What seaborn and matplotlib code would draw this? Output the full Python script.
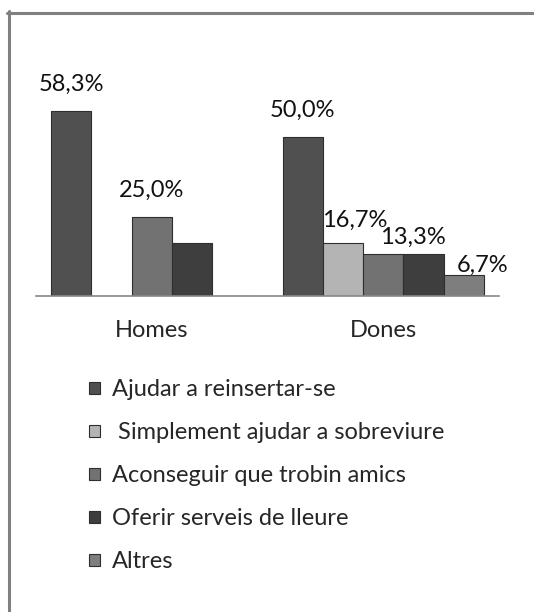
import numpy as np
import pandas as pd
import matplotlib
matplotlib.use("Agg")
import matplotlib.pyplot as plt
from matplotlib.lines import Line2D
from matplotlib.patches import Patch
import seaborn as sns

# data
groups = ["Homes", "Dones"]
series = ["Ajudar a reinsertar-se", " Simplement ajudar a sobreviure",
          "Aconseguir que trobin amics", "Oferir serveis de lleure", "Altres"]
homes = [58.3, 0.0, 25.0, 16.7, 0.0]
dones = [50.0, 16.7, 13.3, 13.3, 6.7]
homes_labels = ["58,3%", "", "25,0%", "", ""]
dones_labels = ["50,0%", "16,7%", "", "13,3%", "6,7%"]

colors = ["#505050", "#b4b4b4", "#727272", "#3e3e3e", "#7e7e7e"]

df = pd.DataFrame({
    "grup": np.repeat(groups, len(series)),
    "serie": series * 2,
    "valor": homes + dones,
})

sns.set_style("white")
plt.rcParams["font.family"] = ["Lato", "DejaVu Sans"]

fig = plt.figure(figsize=(5.34, 6.12), dpi=100)
ax = fig.add_axes([36 / 534, 1 - 296 / 612, 463 / 534, 222 / 612])

sns.barplot(data=df, x="grup", y="valor", hue="serie", hue_order=series,
            palette=colors, width=0.87, edgecolor="#2e2e2e", linewidth=0.8,
            legend=False, ax=ax)

ax.set_xlim(-0.5, 1.5)
ax.set_ylim(0, 70)
ax.set_xlabel("")
ax.set_ylabel("")
ax.set_yticks([])
ax.tick_params(axis="x", length=0, pad=17, labelsize=17)
for s in ["left", "right", "top"]:
    ax.spines[s].set_visible(False)
ax.spines["bottom"].set_color("#888888")
ax.spines["bottom"].set_linewidth(1.2)

# value labels (offsets in pixels)
offs = {(0, 0): (0, 27), (0, 2): (0, 26), (1, 0): (0, 27), (1, 1): (12, 23),
        (1, 3): (-11, 16), (1, 4): (19, 9)}
all_labels = [homes_labels, dones_labels]
for si, cont in enumerate(ax.containers):
    for gi, bar in enumerate(cont):
        txt = all_labels[gi][si]
        if not txt:
            continue
        dx, dy = offs.get((gi, si), (0, 20))
        ax.annotate(txt, (bar.get_x() + bar.get_width() / 2, bar.get_height()),
                    xytext=(dx, dy), textcoords="offset pixels",
                    ha="center", va="center", fontsize=17, color="#111111",
                    annotation_clip=False)

# legend
handles = [Patch(facecolor=c, edgecolor="#2e2e2e", linewidth=0.8) for c in colors]
fig.legend(handles, series, loc="upper left",
           bbox_to_anchor=(80 / 534, 1 - 370 / 612), frameon=False,
           fontsize=17, handlelength=0.44, handleheight=0.44,
           handletextpad=0.5, labelspacing=0.93, borderaxespad=0)

# chart border
fig.add_artist(Line2D([8.5 / 534, 8.5 / 534], [0, 1 - 11 / 612],
                      transform=fig.transFigure, color="#808080", lw=2.2))
fig.add_artist(Line2D([7 / 534, 1], [1 - 12.5 / 612, 1 - 12.5 / 612],
                      transform=fig.transFigure, color="#808080", lw=2.2))

fig.savefig("out.png", dpi=100, facecolor="white")
